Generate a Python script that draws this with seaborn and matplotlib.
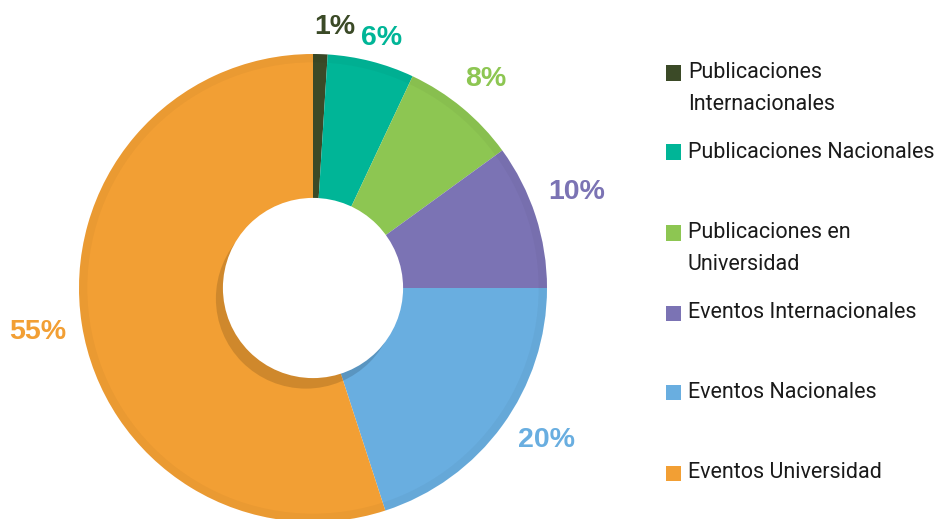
import numpy as np
import seaborn as sns
import matplotlib.pyplot as plt
from matplotlib.patches import Circle, Rectangle
from matplotlib import font_manager

# data
categorias = ['Publicaciones\nInternacionales', 'Publicaciones Nacionales',
              'Publicaciones en\nUniversidad', 'Eventos Internacionales',
              'Eventos Nacionales', 'Eventos Universidad']
porcentajes = [1, 6, 8, 10, 20, 55]
colores = ['#3b4a27', '#00b597', '#8dc652', '#7b73b4', '#69aee0', '#f29f34']

sns.set_theme(style='white')
names = {f.name for f in font_manager.fontManager.ttflist}
narrow = 'Liberation Sans Narrow' in names
legend_font = 'Liberation Sans Narrow' if narrow else 'Roboto'
legend_size = 18.5 if narrow else 15.5

fig = plt.figure(figsize=(9.37, 5.19), dpi=100)
W, H = 937, 519
cx, cy, R = 313, 288, 234
ax = fig.add_axes([(cx - R) / W, (H - cy - R) / H, 2 * R / W, 2 * R / H])

wedges, _ = ax.pie(porcentajes, colors=colores, startangle=90, counterclock=False,
                   radius=1, wedgeprops=dict(linewidth=0))
# subtle darker rim inside the edge
ax.add_patch(Circle((0, 0), 0.982, fill=False, lw=6, ec='black', alpha=0.03))
# hole with shadow
ax.add_patch(Circle((-0.03, -0.045), 0.385, color='black', alpha=0.14, lw=0))
ax.add_patch(Circle((0, 0), 0.385, color='white', lw=0))

# percent labels
dist = [1.12, 1.11, 1.16, 1.2, 1.19, 1.19]
nudge = [-3, -1, 0, 2, 3, 0]
for w, p, c, d, n in zip(wedges, porcentajes, colores, dist, nudge):
    ang = np.deg2rad((w.theta1 + w.theta2) / 2 + n)
    ax.text(d * np.cos(ang), d * np.sin(ang), f'{p}%', color=c, ha='center', va='center',
            fontsize=20.5, fontweight='bold', family='Liberation Sans')

ax.set_xlim(-1, 1)
ax.set_ylim(-1, 1)
ax.set_aspect('equal')
ax.axis('off')

# legend
ys = [73, 152, 233, 313, 392, 473]
for lab, c, y in zip(categorias, colores, ys):
    fig.patches.append(Rectangle((666 / W, 1 - (y + 7.5) / H), 15 / W, 15 / H,
                                 transform=fig.transFigure, color=c, lw=0))
    for i, line in enumerate(lab.split('\n')):
        fig.text(688 / W, 1 - (y + 31 * i) / H, line, ha='left', va='center',
                 fontsize=legend_size, color='#1a1a1a', family=legend_font)

fig.savefig('out.png', dpi=100)
